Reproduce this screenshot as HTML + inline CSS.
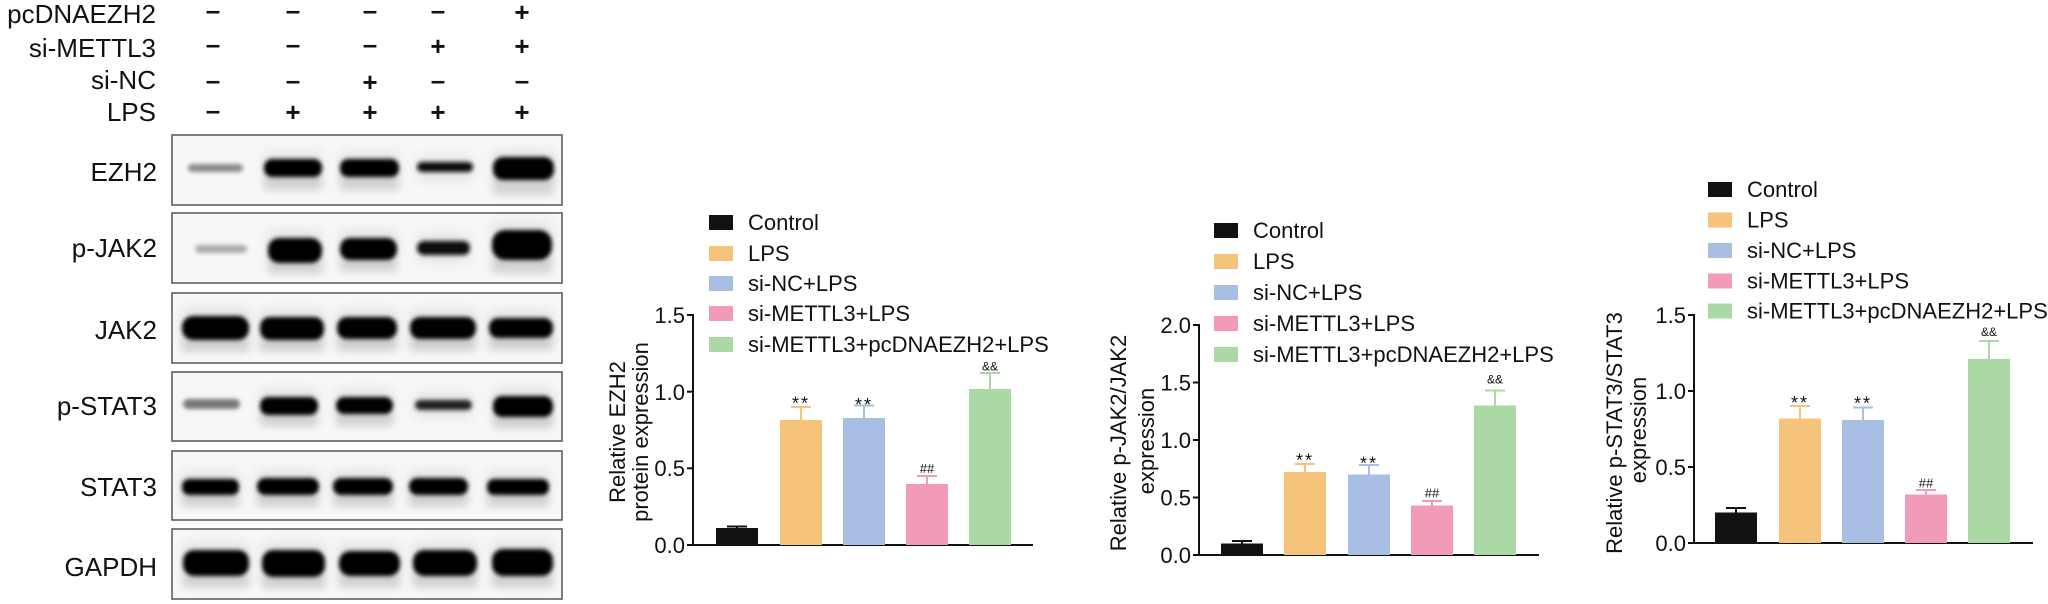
<!DOCTYPE html>
<html><head><meta charset="utf-8">
<style>
html,body{margin:0;padding:0;background:#fff;}
body{width:2048px;height:604px;overflow:hidden;}
svg{display:block;font-family:"Liberation Sans",Arial,sans-serif;}
</style></head><body>
<svg width="2048" height="604" viewBox="0 0 2048 604" xmlns="http://www.w3.org/2000/svg">
<defs>
<filter id="b" x="-30%" y="-200%" width="160%" height="500%"><feGaussianBlur stdDeviation="2"/></filter>
<filter id="s" x="-30%" y="-200%" width="160%" height="500%"><feGaussianBlur stdDeviation="4"/></filter>
<filter id="h" x="-40%" y="-300%" width="180%" height="700%"><feGaussianBlur stdDeviation="6"/></filter>
</defs>
<rect width="2048" height="604" fill="#fff"/>

<!-- Header labels -->
<g font-size="26" fill="#111" text-anchor="end">
<text x="156" y="23">pcDNAEZH2</text>
<text x="156" y="57">si-METTL3</text>
<text x="156" y="89">si-NC</text>
<text x="156" y="121">LPS</text>
</g>
<!-- signs -->
<g fill="#111" font-weight="bold" text-anchor="middle">
<g font-size="26">
<text x="213" y="19">–</text><text x="293" y="19">–</text><text x="370" y="19">–</text><text x="438" y="19">–</text>
<text x="213" y="53">–</text><text x="293" y="53">–</text><text x="370" y="53">–</text>
<text x="213" y="89">–</text><text x="293" y="89">–</text><text x="438" y="89">–</text><text x="522" y="89">–</text>
<text x="213" y="119">–</text>
</g>
<g font-size="26">
<text x="522" y="21">+</text>
<text x="438" y="55">+</text><text x="522" y="55">+</text>
<text x="370" y="91">+</text>
<text x="293" y="121">+</text><text x="370" y="121">+</text><text x="438" y="121">+</text><text x="522" y="121">+</text>
</g>
</g>

<!-- Row labels -->
<g font-size="26" fill="#111" text-anchor="end">
<text x="157" y="181">EZH2</text>
<text x="157" y="257">p-JAK2</text>
<text x="157" y="339">JAK2</text>
<text x="157" y="415">p-STAT3</text>
<text x="157" y="496">STAT3</text>
<text x="157" y="576">GAPDH</text>
</g>

<!-- Blot boxes -->
<g fill="#f7f7f7" stroke="#555" stroke-width="1.5">
<rect x="172" y="135" width="390" height="70"/>
<rect x="172" y="213" width="390" height="70"/>
<rect x="172" y="293" width="390" height="70"/>
<rect x="172" y="372" width="390" height="69"/>
<rect x="172" y="451" width="390" height="69"/>
<rect x="172" y="529" width="390" height="70"/>
</g>

<!-- halos -->
<g fill="#000" opacity="0.08" filter="url(#h)">
<rect x="264" y="152" width="58" height="34"/><rect x="340" y="152" width="59" height="34"/><rect x="417" y="156" width="56" height="24"/><rect x="493" y="150" width="61" height="38"/>
<rect x="268" y="230" width="54" height="40"/><rect x="340" y="230" width="57" height="38"/><rect x="417" y="234" width="53" height="28"/><rect x="492" y="222" width="60" height="46"/>
<rect x="182" y="308" width="67" height="40"/><rect x="260" y="309" width="64" height="40"/><rect x="337" y="309" width="60" height="40"/><rect x="410" y="309" width="66" height="40"/><rect x="489" y="310" width="64" height="38"/>
<rect x="260" y="389" width="58" height="34"/><rect x="336" y="389" width="57" height="34"/><rect x="415" y="393" width="57" height="24"/><rect x="493" y="388" width="60" height="37"/>
<rect x="182" y="471" width="57" height="32"/><rect x="257" y="470" width="62" height="33"/><rect x="333" y="470" width="60" height="33"/><rect x="409" y="470" width="59" height="33"/><rect x="487" y="471" width="62" height="32"/>
<rect x="183" y="542" width="66" height="42"/><rect x="262" y="542" width="63" height="43"/><rect x="339" y="543" width="61" height="41"/><rect x="413" y="542" width="64" height="42"/><rect x="492" y="541" width="61" height="43"/>
</g>
<!-- smears -->
<g fill="#000" opacity="0.10" filter="url(#s)">
<rect x="264" y="175" width="58" height="16"/><rect x="340" y="175" width="59" height="16"/><rect x="493" y="178" width="61" height="18"/>
<rect x="268" y="260" width="54" height="14"/><rect x="340" y="258" width="57" height="14"/><rect x="492" y="258" width="60" height="16"/>
<rect x="182" y="338" width="67" height="14"/><rect x="260" y="338" width="64" height="14"/><rect x="337" y="337" width="60" height="14"/><rect x="410" y="337" width="66" height="14"/><rect x="489" y="336" width="64" height="14"/>
<rect x="260" y="413" width="58" height="14"/><rect x="336" y="412" width="57" height="14"/><rect x="493" y="415" width="60" height="14"/>
<rect x="182" y="493" width="57" height="14"/><rect x="257" y="493" width="62" height="14"/><rect x="333" y="493" width="60" height="14"/><rect x="409" y="493" width="59" height="14"/><rect x="487" y="493" width="62" height="14"/>
<rect x="183" y="574" width="66" height="14"/><rect x="262" y="575" width="63" height="14"/><rect x="339" y="574" width="61" height="14"/><rect x="413" y="574" width="64" height="14"/><rect x="492" y="574" width="61" height="14"/>
</g>

<!-- bands -->
<g filter="url(#b)">
<!-- EZH2 -->
<rect x="188" y="164" width="55" height="8" rx="4" fill="#8a8a8a"/>
<rect x="264" y="159" width="58" height="18" rx="8" fill="#050505"/>
<rect x="340" y="159" width="59" height="18" rx="8" fill="#050505"/>
<rect x="417" y="162" width="56" height="10" rx="5" fill="#111"/>
<rect x="493" y="157" width="61" height="23" rx="10" fill="#050505"/>
<!-- p-JAK2 -->
<rect x="195" y="245" width="52" height="8" rx="4" fill="#aaa"/>
<rect x="268" y="238" width="54" height="25" rx="11" fill="#050505"/>
<rect x="340" y="238" width="57" height="22" rx="10" fill="#050505"/>
<rect x="417" y="241" width="53" height="14" rx="7" fill="#111"/>
<rect x="492" y="230" width="60" height="30" rx="13" fill="#050505"/>
<!-- JAK2 -->
<rect x="182" y="316" width="67" height="24" rx="11" fill="#050505"/>
<rect x="260" y="317" width="64" height="23" rx="10" fill="#050505"/>
<rect x="337" y="317" width="60" height="22" rx="10" fill="#050505"/>
<rect x="410" y="317" width="66" height="22" rx="10" fill="#050505"/>
<rect x="489" y="318" width="64" height="20" rx="9" fill="#050505"/>
<!-- p-STAT3 -->
<rect x="183" y="399" width="57" height="10" rx="5" fill="#777"/>
<rect x="260" y="397" width="58" height="18" rx="8" fill="#050505"/>
<rect x="336" y="397" width="57" height="17" rx="8" fill="#050505"/>
<rect x="415" y="400" width="57" height="10" rx="5" fill="#222"/>
<rect x="493" y="396" width="60" height="21" rx="9" fill="#050505"/>
<!-- STAT3 -->
<rect x="182" y="479" width="57" height="16" rx="7" fill="#050505"/>
<rect x="257" y="478" width="62" height="17" rx="8" fill="#050505"/>
<rect x="333" y="478" width="60" height="17" rx="8" fill="#050505"/>
<rect x="409" y="478" width="59" height="17" rx="8" fill="#050505"/>
<rect x="487" y="479" width="62" height="16" rx="7" fill="#050505"/>
<!-- GAPDH -->
<rect x="183" y="550" width="66" height="26" rx="11" fill="#050505"/>
<rect x="262" y="550" width="63" height="27" rx="11" fill="#050505"/>
<rect x="339" y="551" width="61" height="25" rx="11" fill="#050505"/>
<rect x="413" y="550" width="64" height="26" rx="11" fill="#050505"/>
<rect x="492" y="549" width="61" height="27" rx="11" fill="#050505"/>
</g>

<!-- ================= CHART 1 ================= -->
<g font-size="22" fill="#111">
<rect x="709" y="215" width="24" height="15" fill="#111"/>
<rect x="709" y="246" width="24" height="15" fill="#F5C47A"/>
<rect x="709" y="276" width="24" height="15" fill="#A8BEE2"/>
<rect x="709" y="306" width="24" height="15" fill="#F29BB9"/>
<rect x="709" y="337" width="24" height="15" fill="#ABD9A6"/>
<text x="748" y="230">Control</text>
<text x="748" y="261">LPS</text>
<text x="748" y="291">si-NC+LPS</text>
<text x="748" y="321">si-METTL3+LPS</text>
<text x="748" y="352">si-METTL3+pcDNAEZH2+LPS</text>
<text transform="translate(625,432) rotate(-90)" text-anchor="middle">Relative EZH2</text>
<text transform="translate(648,432) rotate(-90)" text-anchor="middle">protein expression</text>
<g text-anchor="end">
<text x="685" y="553">0.0</text>
<text x="685" y="476">0.5</text>
<text x="685" y="400">1.0</text>
<text x="685" y="323">1.5</text>
</g>
</g>
<g stroke="#111" stroke-width="2" fill="none">
<line x1="693" y1="314" x2="693" y2="546"/>
<line x1="692" y1="545" x2="1033" y2="545"/>
<line x1="687" y1="545" x2="693" y2="545"/>
<line x1="687" y1="468.3" x2="693" y2="468.3"/>
<line x1="687" y1="391.7" x2="693" y2="391.7"/>
<line x1="687" y1="315" x2="693" y2="315"/>
</g>
<rect x="716" y="528" width="42" height="17" fill="#111"/>
<rect x="780" y="420" width="42" height="125" fill="#F5C47A"/>
<rect x="843" y="418" width="42" height="127" fill="#A8BEE2"/>
<rect x="906" y="484" width="42" height="61" fill="#F29BB9"/>
<rect x="969" y="389" width="42" height="156" fill="#ABD9A6"/>
<g stroke-width="2" fill="none">
<path d="M737 528V526.5M727 526.5H747" stroke="#111"/>
<path d="M801 420V407M791 407H811" stroke="#F5C47A"/>
<path d="M864 418V405.5M854 405.5H874" stroke="#A8BEE2"/>
<path d="M927 484V476M917 476H937" stroke="#F29BB9"/>
<path d="M990 389V373M980 373H1000" stroke="#ABD9A6"/>
</g>
<g fill="#111" text-anchor="middle">
<text x="801" y="409.5" font-size="18" letter-spacing="2">**</text>
<text x="864" y="411" font-size="18" letter-spacing="2">**</text>
<text x="927" y="473" font-size="13">##</text>
<text x="990" y="370.5" font-size="12">&amp;&amp;</text>
</g>

<!-- ================= CHART 2 ================= -->
<g font-size="22" fill="#111">
<rect x="1214" y="223" width="24" height="15" fill="#111"/>
<rect x="1214" y="254" width="24" height="15" fill="#F5C47A"/>
<rect x="1214" y="285" width="24" height="15" fill="#A8BEE2"/>
<rect x="1214" y="316" width="24" height="15" fill="#F29BB9"/>
<rect x="1214" y="347" width="24" height="15" fill="#ABD9A6"/>
<text x="1253" y="238">Control</text>
<text x="1253" y="269">LPS</text>
<text x="1253" y="300">si-NC+LPS</text>
<text x="1253" y="331">si-METTL3+LPS</text>
<text x="1253" y="362">si-METTL3+pcDNAEZH2+LPS</text>
<text transform="translate(1126,443) rotate(-90)" text-anchor="middle">Relative p-JAK2/JAK2</text>
<text transform="translate(1154,441) rotate(-90)" text-anchor="middle">expression</text>
<g text-anchor="end">
<text x="1191" y="563">0.0</text>
<text x="1191" y="505.5">0.5</text>
<text x="1191" y="448">1.0</text>
<text x="1191" y="390.5">1.5</text>
<text x="1191" y="333">2.0</text>
</g>
</g>
<g stroke="#111" stroke-width="2" fill="none">
<line x1="1199" y1="324" x2="1199" y2="556"/>
<line x1="1198" y1="555" x2="1539" y2="555"/>
<line x1="1193" y1="555" x2="1199" y2="555"/>
<line x1="1193" y1="497.5" x2="1199" y2="497.5"/>
<line x1="1193" y1="440" x2="1199" y2="440"/>
<line x1="1193" y1="382.5" x2="1199" y2="382.5"/>
<line x1="1193" y1="325" x2="1199" y2="325"/>
</g>
<rect x="1221" y="543.5" width="42" height="11.5" fill="#111"/>
<rect x="1284" y="472" width="42" height="83" fill="#F5C47A"/>
<rect x="1348" y="474.5" width="42" height="80.5" fill="#A8BEE2"/>
<rect x="1411" y="505.5" width="42" height="49.5" fill="#F29BB9"/>
<rect x="1474" y="405.5" width="42" height="149.5" fill="#ABD9A6"/>
<g stroke-width="2" fill="none">
<path d="M1242 543.5V541M1232 541H1252" stroke="#111"/>
<path d="M1305 472V464M1295 464H1315" stroke="#F5C47A"/>
<path d="M1369 474.5V465M1359 465H1379" stroke="#A8BEE2"/>
<path d="M1432 505.5V501M1422 501H1442" stroke="#F29BB9"/>
<path d="M1495 405.5V390.5M1485 390.5H1505" stroke="#ABD9A6"/>
</g>
<g fill="#111" text-anchor="middle">
<text x="1305" y="466.5" font-size="18" letter-spacing="2">**</text>
<text x="1369" y="469.5" font-size="18" letter-spacing="2">**</text>
<text x="1432" y="497.5" font-size="13">##</text>
<text x="1495" y="383.5" font-size="12">&amp;&amp;</text>
</g>

<!-- ================= CHART 3 ================= -->
<g font-size="22" fill="#111">
<rect x="1708" y="182" width="24" height="15" fill="#111"/>
<rect x="1708" y="212.5" width="24" height="15" fill="#F5C47A"/>
<rect x="1708" y="243" width="24" height="15" fill="#A8BEE2"/>
<rect x="1708" y="273.5" width="24" height="15" fill="#F29BB9"/>
<rect x="1708" y="303.5" width="24" height="15" fill="#ABD9A6"/>
<text x="1747" y="197">Control</text>
<text x="1747" y="227.5">LPS</text>
<text x="1747" y="258">si-NC+LPS</text>
<text x="1747" y="288.5">si-METTL3+LPS</text>
<text x="1747" y="318.5">si-METTL3+pcDNAEZH2+LPS</text>
<text transform="translate(1622,433) rotate(-90)" text-anchor="middle">Relative p-STAT3/STAT3</text>
<text transform="translate(1646,430) rotate(-90)" text-anchor="middle">expression</text>
<g text-anchor="end">
<text x="1686" y="551">0.0</text>
<text x="1686" y="475">0.5</text>
<text x="1686" y="399">1.0</text>
<text x="1686" y="323">1.5</text>
</g>
</g>
<g stroke="#111" stroke-width="2" fill="none">
<line x1="1694" y1="314" x2="1694" y2="544"/>
<line x1="1693" y1="543" x2="2033" y2="543"/>
<line x1="1688" y1="543" x2="1694" y2="543"/>
<line x1="1688" y1="467" x2="1694" y2="467"/>
<line x1="1688" y1="391" x2="1694" y2="391"/>
<line x1="1688" y1="315" x2="1694" y2="315"/>
</g>
<rect x="1715" y="512.5" width="42" height="30.5" fill="#111"/>
<rect x="1779" y="418.5" width="42" height="124.5" fill="#F5C47A"/>
<rect x="1842" y="420" width="42" height="123" fill="#A8BEE2"/>
<rect x="1905" y="494.5" width="42" height="48.5" fill="#F29BB9"/>
<rect x="1968" y="359" width="42" height="184" fill="#ABD9A6"/>
<g stroke-width="2" fill="none">
<path d="M1736 512.5V508M1726 508H1746" stroke="#111"/>
<path d="M1800 418.5V406M1790 406H1810" stroke="#F5C47A"/>
<path d="M1863 420V407.5M1853 407.5H1873" stroke="#A8BEE2"/>
<path d="M1926 494.5V490M1916 490H1936" stroke="#F29BB9"/>
<path d="M1989 359V341M1979 341H1999" stroke="#ABD9A6"/>
</g>
<g fill="#111" text-anchor="middle">
<text x="1800" y="409" font-size="18" letter-spacing="2">**</text>
<text x="1863" y="409.5" font-size="18" letter-spacing="2">**</text>
<text x="1926" y="487.5" font-size="13">##</text>
<text x="1989" y="336" font-size="12">&amp;&amp;</text>
</g>
</svg>
</body></html>
